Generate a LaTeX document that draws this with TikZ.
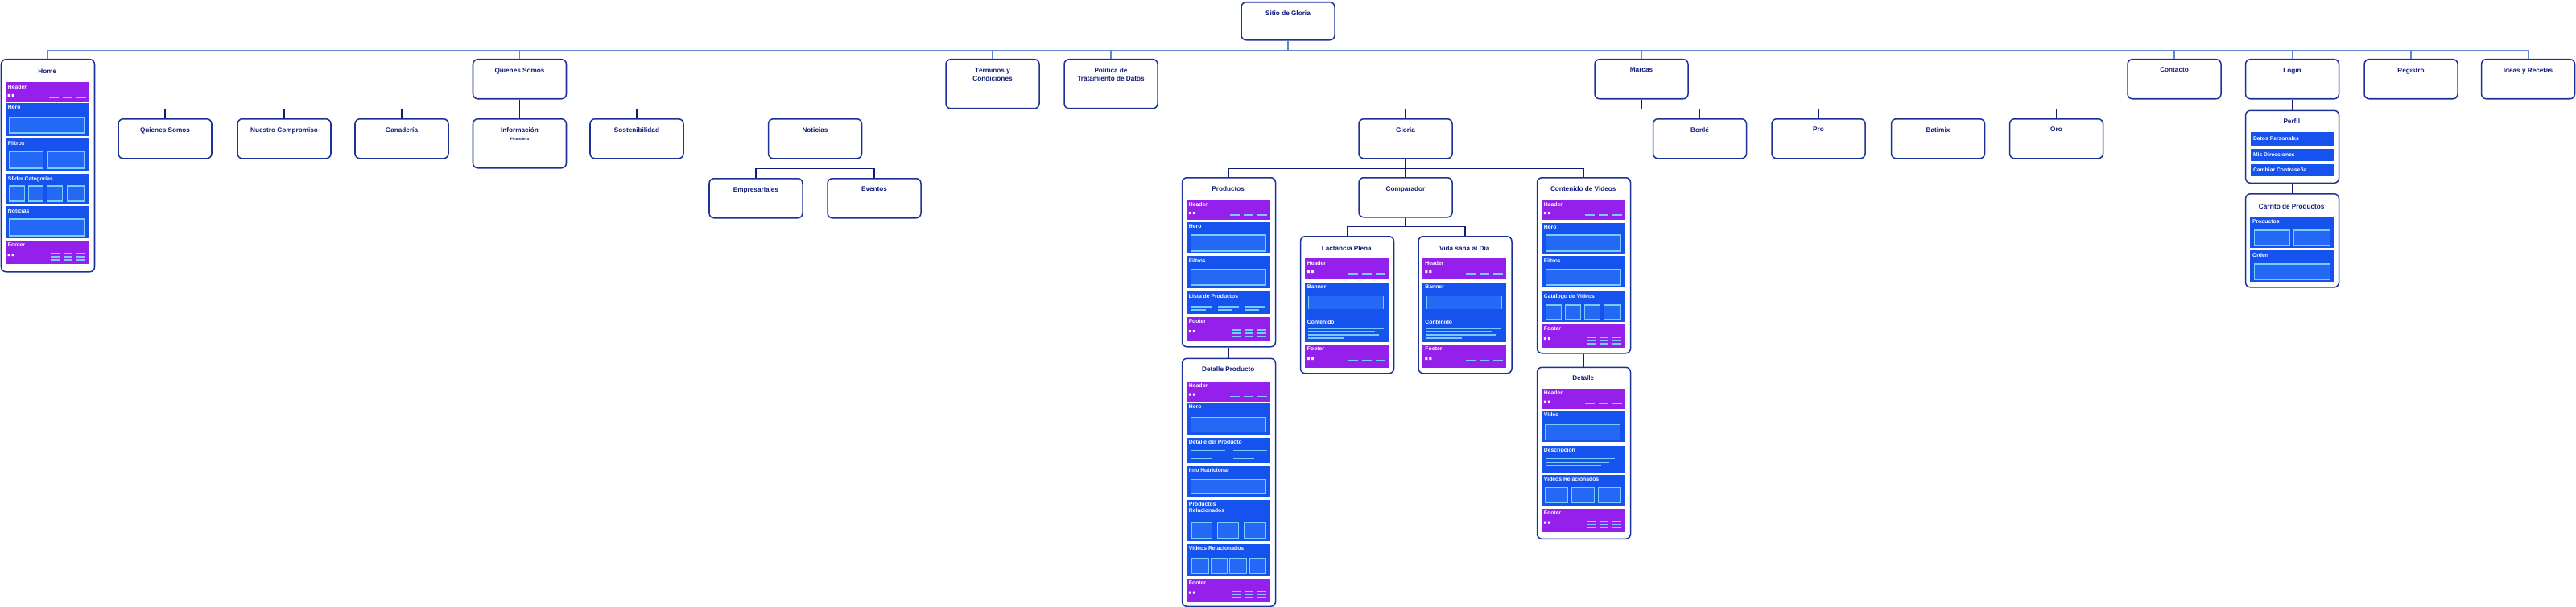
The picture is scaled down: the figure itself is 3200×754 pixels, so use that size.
\documentclass[tikz,border=0pt]{standalone}
\usepackage{fontspec}
\setmainfont{Liberation Sans}
\usetikzlibrary{positioning}

\definecolor{navy}{RGB}{16,28,120}
\definecolor{edge}{RGB}{28,50,150}
\definecolor{topline}{RGB}{95,135,205}
\definecolor{wfpurple}{RGB}{150,32,235}
\definecolor{wfblue}{RGB}{22,82,238}
\definecolor{wfbox}{RGB}{35,105,245}
\definecolor{wfline}{RGB}{120,205,255}

% wireframe band: style, top, bottom, name, label
\newcommand{\wsec}[5]{%
  \fill[#1] (6,#2) rectangle (110,#3);
  \node[lbl] (#4) at (9,#2+3) {#5};}
% header band: top, name
\newcommand{\whead}[2]{%
  \wsec{wfp}{#1}{#1+25}{#2}{Header}
  \fill[white] (9,#1+15) rectangle ++(3,3) (14,#1+15) rectangle ++(3,3);
  \foreach \dx in {60,77,94} \draw[navline] (\dx,#1+19) -- ++(12,0);}
% footer band with link columns: top, name
\newcommand{\wfoot}[2]{%
  \wsec{wfp}{#1}{#1+29}{#2}{Footer}
  \fill[white] (9,#1+16) rectangle ++(3,3) (14,#1+16) rectangle ++(3,3);
  \foreach \dx in {62,78,94} {\foreach \dy in {16,20,24} {\draw[navline] (\dx,#1+\dy) -- ++(11,0);}}}
% footer band with dashes: top, name
\newcommand{\wfootd}[2]{%
  \wsec{wfp}{#1}{#1+29}{#2}{Footer}
  \fill[white] (9,#1+16) rectangle ++(3,3) (14,#1+16) rectangle ++(3,3);
  \foreach \dx in {60,77,94} \draw[navline] (\dx,#1+20) -- ++(12,0);}

\begin{document}
\begin{tikzpicture}[
    x=0.3mm, y=-0.3mm,
    page/.style={rectangle, draw=edge, line width=1.3pt, rounded corners=1.8mm, fill=white, minimum width=34.8mm, minimum height=14.7mm, anchor=north, inner sep=0},
    ttl/.style={anchor=north, font=\fontsize{7}{8.5}\selectfont\bfseries, text=navy, align=center, inner sep=0},
    lbl/.style={anchor=north west, font=\fontsize{5.8}{6.8}\selectfont\bfseries, text=white, inner sep=0, align=left},
    wfp/.style={fill=wfpurple},
    wfb/.style={fill=wfblue},
    wbox/.style={draw=wfline, fill=wfbox, line width=1.1pt},
    navline/.style={draw=wfline, line width=1pt},
    wire/.style={draw=navy, line width=1.4pt},
    topwire/.style={draw=topline, line width=1.4pt},
]
\useasboundingbox (0,0) rectangle (3200,754);

% Root
\node[page, minimum height=14.1mm] (root) at (1600,2) {};

% Top level
\node[page, minimum height=79.2mm] (home) at (59.5,73) {};
\node[page] (qs) at (645.5,73) {};
\node[page, minimum height=18.3mm] (tyc) at (1233,73) {};
\node[page, minimum height=18.3mm] (pol) at (1380,73) {};
\node[page] (marcas) at (2039,73) {};
\node[page] (contacto) at (2701,73) {};
\node[page] (login) at (2847.5,73) {};
\node[page] (registro) at (2995,73) {};
\node[page] (recetas) at (3140.5,73) {};

% Quienes Somos
\node[page] (quienes) at (205,147) {};
\node[page] (compromiso) at (353,147) {};
\node[page] (ganaderia) at (499,147) {};
\node[page, minimum height=18.3mm] (info) at (645.5,147) {};
\node[page] (sosten) at (791,147) {};
\node[page] (noticias) at (1012.5,147) {};
\node[page] (empresa) at (939,221) {};
\node[page] (eventos) at (1086,221) {};

% Marcas
\node[page] (gloria) at (1746,147) {};
\node[page] (bonle) at (2111.5,147) {};
\node[page] (pro) at (2259,147) {};
\node[page] (batimix) at (2407.5,147) {};
\node[page] (oro) at (2554.5,147) {};

% Gloria
\node[page, minimum height=63mm] (productos) at (1526.5,220) {};
\node[page] (comparador) at (1746,220) {};
\node[page, minimum height=65.4mm] (contenido) at (1967.5,220) {};
\node[page, minimum height=51mm] (lactancia) at (1673.5,293) {};
\node[page, minimum height=51mm] (vidasana) at (1820,293) {};
\node[page, minimum height=92.4mm, below=3.9mm of productos] (detprod) {};
\node[page, minimum height=63.9mm, below=4.8mm of contenido] (detalle) {};

% Login
\node[page, minimum height=27mm, below=3.9mm of login] (perfil) {};
\node[page, minimum height=34.8mm, below=3.6mm of perfil] (carrito) {};

% Titles
\foreach \n/\t in {root/Sitio de Gloria, qs/Quienes Somos, tyc/Términos y\\Condiciones,
    pol/Política de\\Tratamiento de Datos, marcas/Marcas, contacto/Contacto, login/Login,
    registro/Registro, recetas/Ideas y Recetas, quienes/Quienes Somos,
    compromiso/Nuestro Compromiso, ganaderia/Ganadería,
    info/Información\\{\fontsize{4}{5}\selectfont Financiera}, sosten/Sostenibilidad,
    noticias/Noticias, empresa/Empresariales, eventos/Eventos, gloria/Gloria, bonle/Bonlé,
    pro/Pro, batimix/Batimix, oro/Oro, comparador/Comparador}
  \node[ttl] (\n-t) at ([yshift=-3.3mm]\n.north) {\t};

% Connectors
\foreach \n in {home,qs,tyc,pol,marcas,contacto,login,registro,recetas}
  \draw[topwire] (root.south) -- ++(0,12) -| (\n.north);
\foreach \n in {quienes,compromiso,ganaderia,info,sosten,noticias}
  \draw[wire] (qs.south) -- ++(0,12) -| (\n.north);
\foreach \n in {empresa,eventos}
  \draw[wire] (noticias.south) -- ++(0,12) -| (\n.north);
\foreach \n in {gloria,bonle,pro,batimix,oro}
  \draw[wire] (marcas.south) -- ++(0,12) -| (\n.north);
\foreach \n in {productos,comparador,contenido}
  \draw[wire] (gloria.south) -- ++(0,12) -| (\n.north);
\foreach \n in {lactancia,vidasana}
  \draw[wire] (comparador.south) -- ++(0,11) -| (\n.north);
\draw[wire] (productos) -- (detprod);
\draw[wire] (contenido) -- (detalle);
\draw[wire] (login) -- (perfil);
\draw[wire] (perfil) -- (carrito);

% Home wireframe
\begin{scope}[shift={(home.north west)}]
\node[ttl] (home-t) at (58,13) {Home};
\whead{29}{home-hd}
\wsec{wfb}{55}{96}{home-hero}{Hero}
\draw[wbox] (11,73) rectangle (104,92);
\wsec{wfb}{99}{139}{home-fil}{Filtros}
\draw[wbox] (11,115) rectangle (53,136) (59,115) rectangle (104,136);
\wsec{wfb}{143}{180}{home-sl}{Slider Categorías}
\foreach \a/\b in {11/30,35/53,58/77,83/104} \draw[wbox] (\a,158) rectangle (\b,177);
\wsec{wfb}{183}{223}{home-not}{Noticias}
\draw[wbox] (11,199) rectangle (104,220);
\wfoot{226}{home-ft}
\end{scope}

% Productos wireframe
\begin{scope}[shift={(productos.north west)}]
\node[ttl] (prod-t) at (58,11) {Productos};
\whead{28}{prod-hd}
\wsec{wfb}{56}{94}{prod-hero}{Hero}
\draw[wbox] (12,72) rectangle (105,92);
\wsec{wfb}{98}{138}{prod-fil}{Filtros}
\draw[wbox] (12,115) rectangle (105,134);
\wsec{wfb}{142}{170}{prod-lista}{Lista de Productos}
\foreach \a in {12,45,78} \draw[navline] (\a,161) -- ++(26,0) (\a,165) -- ++(18,0);
\wfoot{174}{prod-ft}
\end{scope}

% Detalle Producto wireframe
\begin{scope}[shift={(detprod.north west)}]
\node[ttl] (dp-t) at (58,11) {Detalle Producto};
\whead{29}{dp-hd}
\wsec{wfb}{55}{95}{dp-hero}{Hero}
\draw[wbox] (12,74) rectangle (105,92);
\wsec{wfb}{99}{130}{dp-det}{Detalle del Producto}
\foreach \a in {12,64} \draw[navline] (\a,115) -- ++(42,0) (\a,125) -- ++(26,0);
\wsec{wfb}{134}{172}{dp-info}{Info Nutricional}
\draw[wbox] (12,151) rectangle (105,169);
\wsec{wfb}{176}{227}{dp-rel}{Productos\\Relacionados}
\foreach \a/\b in {13/38,45/71,78/105} \draw[wbox] (\a,205) rectangle (\b,224);
\wsec{wfb}{231}{270}{dp-vid}{Videos Relacionados}
\foreach \a/\b in {13/34,37/57,60/81,85/105} \draw[wbox] (\a,249) rectangle (\b,268);
\wfoot{274}{dp-ft}
\end{scope}

% Contenido de Videos wireframe
\begin{scope}[shift={(contenido.north west)}]
\node[ttl] (cv-t) at (58,11) {Contenido de Videos};
\whead{28}{cv-hd}
\wsec{wfb}{57}{95}{cv-hero}{Hero}
\draw[wbox] (12,72) rectangle (105,92);
\wsec{wfb}{98}{137}{cv-fil}{Filtros}
\draw[wbox] (12,115) rectangle (105,134);
\wsec{wfb}{142}{180}{cv-cat}{Catálogo de Videos}
\foreach \a/\b in {12/31,36/55,60/79,84/105} \draw[wbox] (\a,159) rectangle (\b,177);
\wfoot{183}{cv-ft}
\end{scope}

% Detalle wireframe
\begin{scope}[shift={(detalle.north west)}]
\node[ttl] (det-t) at (58,11) {Detalle};
\whead{27}{det-hd}
\wsec{wfb}{54}{93}{det-vid}{Video}
\draw[wbox] (11,72) rectangle (104,91);
\wsec{wfb}{98}{131}{det-desc}{Descripción}
\draw[navline] (11,114) -- (97,114) (11,119) -- (90,119) (11,123) -- (80,123);
\wsec{wfb}{134}{173}{det-rel}{Videos Relacionados}
\foreach \a/\b in {11/39,44/72,77/105} \draw[wbox] (\a,150) rectangle (\b,169);
\wfoot{176}{det-ft}
\end{scope}

% Comparador pages
\foreach \p/\t in {lactancia/Lactancia Plena, vidasana/Vida sana al Día} {
\begin{scope}[shift={(\p.north west)}]
\node[ttl] (\p-t) at (58,12) {\t};
\whead{28}{\p-hd}
\wsec{wfb}{58}{132}{\p-ban}{Banner}
\fill[wfbox] (11,75) rectangle (104,91);
\draw[navline] (11,75) -- (11,91) (104,75) -- (104,91);
\node[lbl] (\p-cont) at (9,104) {Contenido};
\draw[navline] (10,115) -- (104,115) (10,119) -- (93,119) (10,123) -- (98,123) (10,127) -- (55,127);
\wfootd{135}{\p-ft}
\end{scope}
}

% Perfil
\begin{scope}[shift={(perfil.north west)}]
\node[ttl] (pf-t) at (58,11) {Perfil};
\foreach \i/\t/\a/\b in {1/Datos Personales/27/44, 2/Mis Direcciones/48/63, 3/Cambiar Contraseña/67/82} {
  \fill[wfblue] (7,\a) rectangle (110,\b);
  \node[lbl, anchor=west] (pf-\i) at (10,{(\a+\b)/2}) {\t};
}
\end{scope}

% Carrito de Productos
\begin{scope}[shift={(carrito.north west)}]
\node[ttl] (car-t) at (58,13) {Carrito de Productos};
\wsec{wfb}{29}{68}{car-prod}{Productos}
\draw[wbox] (12,46) rectangle (56,65) (61,46) rectangle (106,65);
\wsec{wfb}{71}{110}{car-ord}{Orden}
\draw[wbox] (12,88) rectangle (106,107);
\end{scope}

\end{tikzpicture}
\end{document}
